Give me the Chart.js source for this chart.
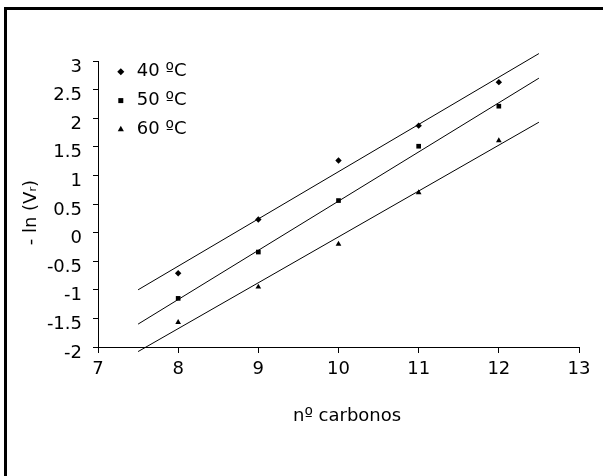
<!DOCTYPE html>
<html lang="es">
<head>
  <meta charset="UTF-8" />
  <title>- ln (Vr) frente a nº carbonos</title>
  <script src="https://cdn.jsdelivr.net/npm/chart.js"></script>
  <style>
    body { margin: 0; background: #fff; }
    #wrap { position: relative; width: 603px; height: 476px; overflow: hidden; }
    #frame { position: absolute; left: 4px; top: 7px; width: 700px; height: 600px;
             border-left: 3px solid #000; border-top: 3px solid #000; pointer-events: none; }
  </style>
</head>
<body>
  <div id="wrap">
    <canvas id="chart"></canvas>
    <div id="frame"></div>
  </div>

  <script>
    // points
    const carbons = [8, 9, 10, 11, 12];
    const lnV40 = [-0.71, 0.23, 1.26, 1.87, 2.63];
    const lnV50 = [-1.15, -0.34, 0.56, 1.51, 2.21];
    const lnV60 = [-1.57, -0.95, -0.20, 0.70, 1.61];

    // trend line ends (as drawn in the figure)
    const trendX = [7.5, 12.5];
    const fit40 = [-1.0, 3.13];
    const fit50 = [-1.6, 2.70];
    const fit60 = [-2.08, 1.93];

    const seriesNames = ['40 ºC', '50 ºC', '60 ºC'];
    const markers = ['rectRot', 'rect', 'triangle'];

    Chart.defaults.font.family = "'DejaVu Sans', Verdana, sans-serif";
    Chart.defaults.font.size = 18;
    Chart.defaults.color = '#000';

    const toPoints = (xs, ys) => xs.map((x, i) => ({ x, y: ys[i] }));

    const pointSets = [lnV40, lnV50, lnV60].map((ys, i) => ({
      label: seriesNames[i],
      data: toPoints(carbons, ys),
      pointStyle: markers[i],
      pointRadius: i === 0 ? 3.2 : 3.3,
      backgroundColor: '#000',
      borderColor: '#000',
      borderWidth: 0,
      showLine: false
    }));

    const trendSets = [fit40, fit50, fit60].map((ys, i) => ({
      label: 'tendencia ' + seriesNames[i],
      data: toPoints(trendX, ys),
      showLine: true,
      pointRadius: 0,
      borderColor: '#000',
      borderWidth: 1,
      clip: false
    }));

    // legend sits in the top-left corner of the plot area
    const legendNudge = {
      id: 'legendNudge',
      afterLayout(chart) {
        const area = chart.chartArea;
        chart.legend.left = area.left + 5;
        chart.legend.top = area.top - 9;
        chart.legend.bottom = area.bottom;
      }
    };

    new Chart(document.getElementById('chart'), {
      type: 'scatter',
      data: { datasets: [...pointSets, ...trendSets] },
      options: {
        responsive: true,
        maintainAspectRatio: false,
        animation: false,
        layout: { padding: { left: 0, top: 61, right: 24, bottom: 49 } },
        plugins: {
          tooltip: { enabled: false },
          legend: {
            position: 'chartArea',
            align: 'start',
            labels: {
              usePointStyle: true,
              boxWidth: 14,
              boxHeight: 5,
              padding: 10.8,
              color: '#000',
              font: { size: 18 },
              filter: item => item.datasetIndex < 3
            }
          }
        },
        scales: {
          x: {
            type: 'linear',
            min: 7,
            max: 13,
            afterFit: s => { s.height = 80; },
            ticks: { stepSize: 1, padding: 6, color: '#000', font: { size: 18 } },
            grid: { drawOnChartArea: false, drawTicks: true, tickLength: 6, color: '#000' },
            border: { display: true, color: '#000', width: 1 },
            title: { display: true, text: '   nº carbonos', color: '#000', font: { size: 18 }, padding: { top: 0, bottom: 0 } }
          },
          y: {
            type: 'linear',
            min: -2,
            max: 3,
            afterFit: s => { s.width = 98; },
            ticks: {
              stepSize: 0.5, padding: 11, labelOffset: 6, color: '#000', font: { size: 18 },
              callback: v => String(v)
            },
            grid: { drawOnChartArea: false, drawTicks: true, tickLength: 5, color: '#000' },
            border: { display: true, color: '#000', width: 1 },
            title: { display: true, text: '- ln (Vᵣ)   ', color: '#000', font: { size: 18 }, padding: { top: 21, bottom: 0 } }
          }
        }
      },
      plugins: [legendNudge]
    });
  </script>
</body>
</html>
